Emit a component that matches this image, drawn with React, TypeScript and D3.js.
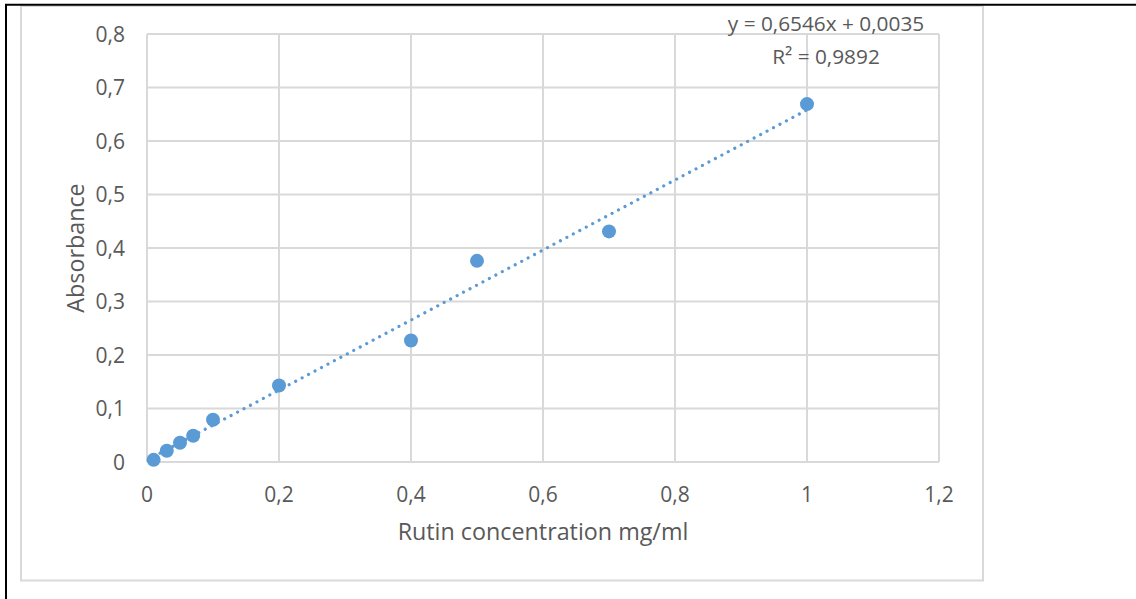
import React from "react";
import * as d3 from "d3";

const concentrations = [0.01, 0.03, 0.05, 0.07, 0.1, 0.2, 0.4, 0.5, 0.7, 1.0];
const absorbances = [0.004, 0.021, 0.036, 0.049, 0.079, 0.143, 0.227, 0.376, 0.431, 0.669];
const xTicks = [0, 0.2, 0.4, 0.6, 0.8, 1.0, 1.2];
const yTicks = [0, 0.1, 0.2, 0.3, 0.4, 0.5, 0.6, 0.7, 0.8];
const trendSlope = 0.6546;
const trendIntercept = 0.0035;
const equationLines = ["y = 0,6546x + 0,0035", "R² = 0,9892"];
const xTitle = "Rutin concentration mg/ml";
const yTitle = "Absorbance";

const W = 1136;
const H = 599;
const plot = { left: 147, right: 939, top: 34, bottom: 462 };
const blue = "#5B9BD5";
const grid = "#D9D9D9";
const textColor = "#595959";
const font = "'Open Sans', 'Noto Sans', sans-serif";

const fmt = (v: number) => {
  const s = d3.format("~g")(+v.toFixed(2));
  return s.replace(".", ",");
};

export default function App() {
  const x = d3.scaleLinear().domain([0, 1.2]).range([plot.left, plot.right]);
  const y = d3.scaleLinear().domain([0, 0.8]).range([plot.bottom, plot.top]);
  const xMin = d3.min(concentrations) as number;
  const xMax = d3.max(concentrations) as number;
  const trendData: [number, number][] = [
    [xMin, trendSlope * xMin + trendIntercept],
    [xMax, trendSlope * xMax + trendIntercept],
  ];
  const line = d3
    .line<[number, number]>()
    .x((d) => x(d[0]))
    .y((d) => y(d[1]));

  return (
    <svg
      width={W}
      height={H}
      style={{ position: "absolute", left: 0, top: 0, background: "#fff" }}
      fontFamily={font}
    >
      <rect x={0} y={0} width={W} height={H} fill="#fff" />
      {/* chart area border */}
      <rect x={21} y={6} width={962} height={574.5} fill="#fff" stroke={grid} strokeWidth={2} />
      {/* black page lines */}
      <line x1={5} x2={W} y1={4.8} y2={4.8} stroke="#000" strokeWidth={2} />
      <line x1={6} x2={6} y1={4} y2={H} stroke="#000" strokeWidth={2} />

      {/* gridlines */}
      {yTicks.map((t) => (
        <line key={"gy" + t} x1={plot.left} x2={plot.right} y1={y(t)} y2={y(t)} stroke={grid} strokeWidth={2} />
      ))}
      {xTicks.map((t) => (
        <line key={"gx" + t} x1={x(t)} x2={x(t)} y1={plot.top} y2={plot.bottom} stroke={grid} strokeWidth={2} />
      ))}

      {/* tick labels */}
      {yTicks.map((t) => (
        <text key={"ty" + t} x={plot.left - 22} y={y(t)} dy="0.36em" textAnchor="end" fontSize={21} fill={textColor}>
          {fmt(t)}
        </text>
      ))}
      {xTicks.map((t) => (
        <text key={"tx" + t} x={x(t)} y={502} textAnchor="middle" fontSize={21} fill={textColor}>
          {fmt(t)}
        </text>
      ))}

      {/* axis titles */}
      <text x={(plot.left + plot.right) / 2} y={540} textAnchor="middle" fontSize={23.3} fill={textColor}>
        {xTitle}
      </text>
      <text
        transform={`translate(${84},${(plot.top + plot.bottom) / 2}) rotate(-90)`}
        textAnchor="middle"
        fontSize={23.3}
        fill={textColor}
      >
        {yTitle}
      </text>

      {/* trendline */}
      <path
        d={line(trendData) || ""}
        fill="none"
        stroke={blue}
        strokeWidth={3.2}
        strokeLinecap="round"
        strokeDasharray="0.01 7.3"
      />

      {/* points */}
      {concentrations.map((c, i) => (
        <circle key={"p" + i} cx={x(c)} cy={y(absorbances[i])} r={7} fill={blue} />
      ))}

      {/* equation */}
      {equationLines.map((s, i) => (
        <text key={"eq" + i} x={826} y={30.5 + i * 33.5} textAnchor="middle" fontSize={20.8} fill={textColor}>
          {s}
        </text>
      ))}
    </svg>
  );
}
